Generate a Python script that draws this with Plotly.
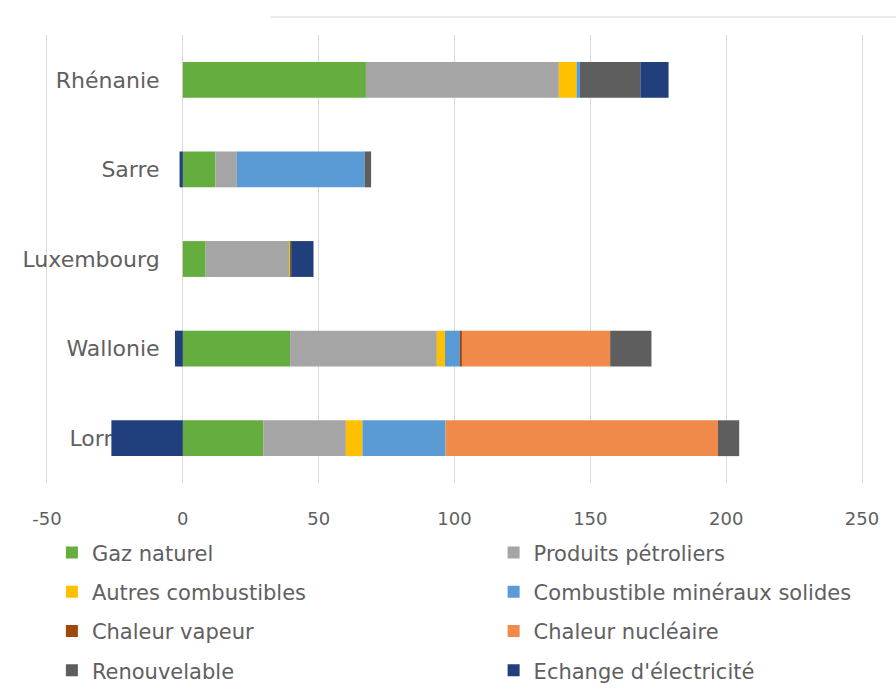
import plotly.graph_objects as go

regions = ["Rhénanie", "Sarre", "Luxembourg", "Wallonie", "Lorraine"]

gaz_naturel = [67.4, 12.0, 8.4, 39.5, 29.6]
produits_petroliers = [71.0, 7.9, 30.8, 54.0, 30.4]
autres_combustibles = [6.5, 0.0, 0.4, 3.0, 6.1]
combustible_mineraux = [1.3, 47.0, 0.0, 5.7, 30.6]
chaleur_vapeur = [0.0, 0.0, 0.0, 0.5, 0.0]
chaleur_nucleaire = [0.0, 0.0, 0.0, 54.6, 100.3]
renouvelable = [22.2, 2.4, 0.5, 15.2, 7.8]
echange_electricite = [10.4, -1.2, 8.0, -2.9, -26.3]

x_ticks = [-50, 0, 50, 100, 150, 200, 250]
x_tick_labels = ["-50", "0", "50", "100", "150", "200", "250"]

series = [
    ("Gaz naturel", gaz_naturel, "#65AD3F", "legend"),
    ("Produits pétroliers", produits_petroliers, "#A5A5A5", "legend2"),
    ("Autres combustibles", autres_combustibles, "#FFC000", "legend"),
    ("Combustible minéraux solides", combustible_mineraux, "#5B9BD5", "legend2"),
    ("Chaleur vapeur", chaleur_vapeur, "#9E480E", "legend"),
    ("Chaleur nucléaire", chaleur_nucleaire, "#F08A4B", "legend2"),
    ("Renouvelable", renouvelable, "#5E5E5E", "legend"),
    ("Echange d'électricité", echange_electricite, "#203F7C", "legend2"),
]

fig = go.Figure()
for name, vals, color, leg in series:
    fig.add_trace(go.Bar(
        name=name, y=regions, x=vals, orientation="h",
        marker=dict(color=color, line=dict(width=0)),
        legend=leg, legendgroup=name,
    ))

FONT = "DejaVu Sans"
GREY = "#606060"

fig.update_layout(
    width=896, height=696,
    paper_bgcolor="white", plot_bgcolor="white",
    margin=dict(l=47, r=34, t=35, b=213, autoexpand=False),
    barmode="relative", bargap=0.6,
    font=dict(family=FONT, color=GREY),
    xaxis=dict(
        range=[-50, 250], tickvals=x_ticks, ticktext=x_tick_labels,
        showgrid=True, gridcolor="#D9D9D9", gridwidth=1,
        zeroline=False, showline=False,
        tickfont=dict(size=18, color=GREY, family=FONT),
        ticklabelstandoff=23, fixedrange=True, automargin=False,
    ),
    yaxis=dict(
        categoryorder="array", categoryarray=regions[::-1],
        showgrid=False, zeroline=False,
        showline=True, mirror=True, linecolor="#D9D9D9", linewidth=1,
        tickfont=dict(size=22, color=GREY, family=FONT),
        ticklabelstandoff=-118, layer="below traces", automargin=False,
    ),
    legend=dict(
        x=0.006, y=-0.11, xanchor="left", yanchor="top",
        traceorder="grouped", tracegroupgap=9,
        font=dict(size=21, color=GREY, family=FONT),
        bgcolor="rgba(0,0,0,0)",
    ),
    legend2=dict(
        x=0.548, y=-0.11, xanchor="left", yanchor="top",
        traceorder="grouped", tracegroupgap=9,
        font=dict(size=21, color=GREY, family=FONT),
        bgcolor="rgba(0,0,0,0)",
    ),
    shapes=[dict(type="line", xref="paper", yref="paper",
                 x0=0.274, x1=1.05, y0=1.04, y1=1.04,
                 line=dict(color="#E4E4E4", width=1.5))],
)

fig.write_html("out.html")
